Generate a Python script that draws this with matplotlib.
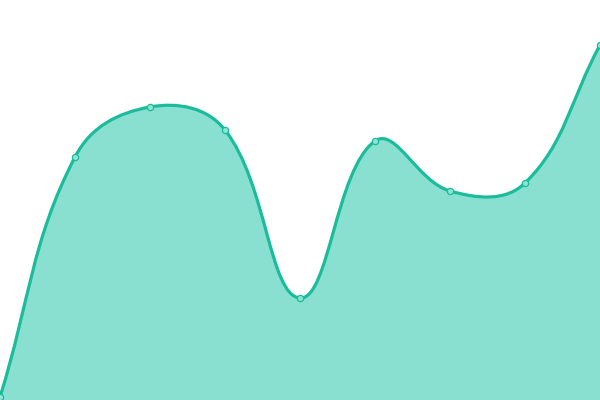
import numpy as np
import matplotlib
matplotlib.use("Agg")
import matplotlib.pyplot as plt
from matplotlib.path import Path
from matplotlib.patches import PathPatch

# values (height above the bottom edge, in px of a 400 px chart)
x_vals = [0, 1, 2, 3, 4, 5, 6, 7, 8]
y_vals = [3, 243, 293, 270, 102, 259, 209, 217, 355]

LINE = "#1abc9c"
FILL = "#89e0d0"
TENSION = 0.4


def spline_controls(pts, t):
    # cardinal-ish spline control points (same idea as Chart.js splineCurve)
    n = len(pts)
    prev_cp, next_cp = [], []
    for i in range(n):
        p0 = pts[i - 1] if i > 0 else pts[i]
        p1 = pts[i]
        p2 = pts[i + 1] if i < n - 1 else pts[i]
        d01 = np.hypot(*(p1 - p0))
        d12 = np.hypot(*(p2 - p1))
        tot = d01 + d12
        s01 = d01 / tot if tot else 0
        s12 = d12 / tot if tot else 0
        fa, fb = t * s01, t * s12
        prev_cp.append(p1 - fa * (p2 - p0))
        next_cp.append(p1 + fb * (p2 - p0))
    return prev_cp, next_cp


fig = plt.figure(figsize=(6, 4), dpi=100)
ax = fig.add_axes([0, 0, 1, 1])
ax.set_xlim(0, 8)
ax.set_ylim(0, 400)
ax.axis("off")

# work in display (pixel) space so the curve shape matches
disp = ax.transData.transform(np.column_stack([x_vals, y_vals]))
pts = [np.array(p, dtype=float) for p in disp]
pcp, ncp = spline_controls(pts, TENSION)

verts = [pts[0]]
codes = [Path.MOVETO]
for i in range(len(pts) - 1):
    verts += [ncp[i], pcp[i + 1], pts[i + 1]]
    codes += [Path.CURVE4] * 3
line_path = Path(ax.transData.inverted().transform(np.array(verts)), codes)

bottom = ax.transData.inverted().transform([[pts[-1][0], 0], [pts[0][0], 0]])
fill_verts = list(line_path.vertices) + list(bottom) + [line_path.vertices[0]]
fill_codes = list(codes) + [Path.LINETO, Path.LINETO, Path.CLOSEPOLY]
ax.add_patch(PathPatch(Path(fill_verts, fill_codes), facecolor=FILL,
                       edgecolor="none", zorder=1))
ax.add_patch(PathPatch(line_path, facecolor="none", edgecolor=LINE,
                       lw=2.3, zorder=2))

ax.plot(x_vals, y_vals, "o", ms=4.5, mfc="#8fe3d3", mec=LINE, mew=0.9,
        zorder=3, clip_on=False)

fig.savefig("out.png", dpi=100)
